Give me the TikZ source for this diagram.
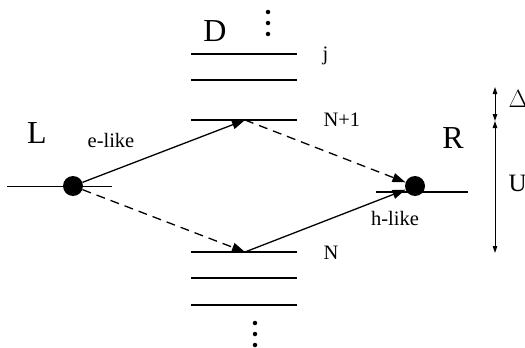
\documentclass[tikz,border=0pt]{standalone}
\usepackage{fontspec}
\setmainfont{Liberation Serif}
\usetikzlibrary{arrows.meta}
\begin{document}
\begin{tikzpicture}[x=1pt,y=-1pt,
  level/.style={line width=1.3pt},
  dot/.style={circle,fill=black,inner sep=0pt,minimum size=20pt},
  big/.style={font=\fontsize{32}{32}\selectfont},
  small/.style={font=\fontsize{20.5}{20.5}\selectfont},
  mid/.style={font=\fontsize{25}{25}\selectfont},
  sarrow/.style={line width=1.3pt,-{Triangle[length=13pt,width=9pt]}},
  darrow/.style={line width=1.3pt,dash pattern=on 9pt off 6pt,-{Triangle[length=13pt,width=9pt]}},
  vdim/.style={line width=1pt,{Triangle[length=7pt,width=4.5pt]}-{Triangle[length=7pt,width=4.5pt]}},
  sd/.style={circle,fill=black,inner sep=0pt,minimum size=4.5pt}]
\useasboundingbox (0,0) rectangle (525,348);
% levels of D
\foreach \y/\n in {54/lj,80/la,120/lnp,252/ln,278/lb,305/lc}{
  \draw[level] (191,\y) coordinate (\n s) -- (297,\y) coordinate (\n e);
}
\coordinate (np) at (245,120);
\coordinate (nn) at (245,252);
% leads
\draw[line width=1pt] (7,186) -- (112,186);
\draw[line width=1.2pt] (376,192) -- (468,192);
\node[dot] (Ld) at (73,186) {};
\node[dot] (Rd) at (415,186) {};
% arrows
\draw[sarrow] (Ld) -- (np);
\draw[darrow] (np) -- (Rd);
\draw[darrow] (Ld) -- (nn);
\draw[sarrow] (nn) -- (Rd);
% labels
\node[big] (L) at (37,133) {L};
\node[big] (R) at (453,138) {R};
\node[big] (D) at (215,31) {D};
\node[small] (el) at (111,140) {e-like};
\node[small] (hl) at (395,218) {h-like};
\node[small,anchor=west] (j) at (319,56) {j};
\node[small,anchor=west] (Np) at (320,120) {N+1};
\node[small,anchor=west] (N) at (320,253) {N};
% vertical dots
\foreach \y [count=\i] in {12,23,34}{\node[sd] (td\i) at (268,\y) {};}
\foreach \y [count=\i] in {323,334,345}{\node[sd] (bd\i) at (255,\y) {};}
% dimension arrows
\coordinate (v1) at (495,87);
\coordinate (v2) at (495,121);
\coordinate (v3) at (495,253);
\draw[vdim] (v1) -- (v2);
\draw[vdim] (v2) -- (v3);
\node[mid,anchor=west] (Dl) at (505,99) {$\Delta$};
\node[mid,anchor=west] (Ul) at (505,183) {U};
\end{tikzpicture}
\end{document}
